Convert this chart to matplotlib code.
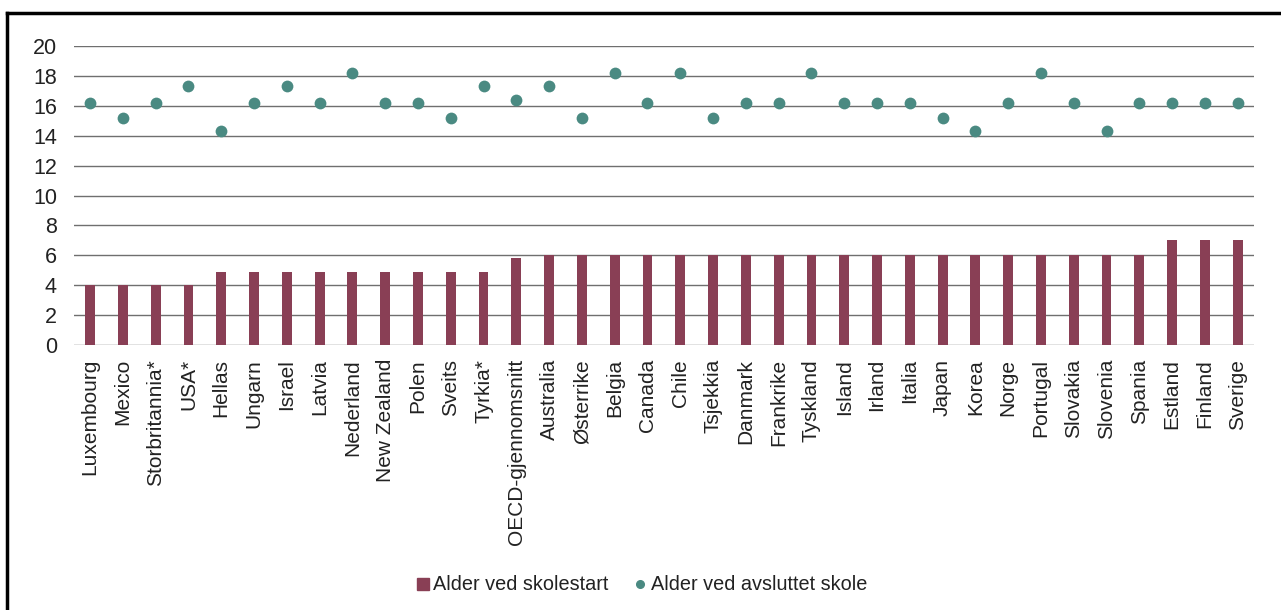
import numpy as np
import matplotlib.pyplot as plt
from matplotlib.lines import Line2D

plt.rcParams['font.family'] = ['Liberation Sans', 'DejaVu Sans']

# Data
countries = ['Luxembourg', 'Mexico', 'Storbritannia*', 'USA*', 'Hellas', 'Ungarn', 'Israel',
             'Latvia', 'Nederland', 'New Zealand', 'Polen', 'Sveits', 'Tyrkia*',
             'OECD-gjennomsnitt', 'Australia', 'Østerrike', 'Belgia', 'Canada', 'Chile',
             'Tsjekkia', 'Danmark', 'Frankrike', 'Tyskland', 'Island', 'Irland', 'Italia',
             'Japan', 'Korea', 'Norge', 'Portugal', 'Slovakia', 'Slovenia', 'Spania',
             'Estland', 'Finland', 'Sverige']
start_age = [4, 4, 4, 4, 4.9, 4.9, 4.9, 4.9, 4.9, 4.9, 4.9, 4.9, 4.9,
             5.8, 6, 6, 6, 6, 6, 6, 6, 6, 6, 6, 6, 6, 6, 6, 6, 6, 6, 6, 6,
             7, 7, 7]
end_age = [16.2, 15.2, 16.2, 17.3, 14.3, 16.2, 17.3, 16.2, 18.2, 16.2, 16.2, 15.2, 17.3,
           16.4, 17.3, 15.2, 18.2, 16.2, 18.2, 15.2, 16.2, 16.2, 18.2, 16.2, 16.2, 16.2,
           15.2, 14.3, 16.2, 18.2, 16.2, 14.3, 16.2, 16.2, 16.2, 16.2]
yticks = np.arange(0, 21, 2)

bar_color = '#893F55'
dot_color = '#4A8A82'

fig = plt.figure(figsize=(12.81, 6.10), dpi=100)
ax = fig.add_axes([0.0575, 0.4344, 0.9215, 0.4902])

x = np.arange(len(countries))
ax.bar(x, start_age, width=0.3, color=bar_color, zorder=2)
ax.scatter(x, end_age, s=72, color=dot_color, zorder=3, linewidths=0)

ax.set_xlim(-0.5, len(countries) - 0.5)
ax.set_ylim(0, 20)
ax.set_yticks(yticks)
ax.set_xticks(x)
ax.set_xticklabels(countries, rotation=90, fontsize=15, color='#222222')
ax.tick_params(axis='y', length=0, pad=12, labelsize=15.5, labelcolor='#222222')
ax.tick_params(axis='x', length=0, pad=10)
ax.yaxis.grid(True, color='#6f6f6f', linewidth=1)
ax.set_axisbelow(True)
for s in ax.spines.values():
    s.set_visible(False)

# legend
handles = [Line2D([], [], marker='s', color=bar_color, linestyle='none', markersize=8),
           Line2D([], [], marker='o', color=dot_color, linestyle='none', markersize=5.5)]
fig.legend(handles, ['Alder ved skolestart', 'Alder ved avsluttet skole'],
           loc='center', bbox_to_anchor=(0.501, 0.041), ncol=2, frameon=False,
           fontsize=14.3, handlelength=0.6, handletextpad=0.25, columnspacing=1.25,
           labelcolor='#222222')

# outer frame (left and top edges visible)
fig.add_artist(Line2D([0.0055, 0.0055], [0, 0.979], transform=fig.transFigure,
                      color='black', linewidth=2.5))
fig.add_artist(Line2D([0.0055, 1.0], [0.979, 0.979], transform=fig.transFigure,
                      color='black', linewidth=2.5))

fig.savefig('out.png', dpi=100)
